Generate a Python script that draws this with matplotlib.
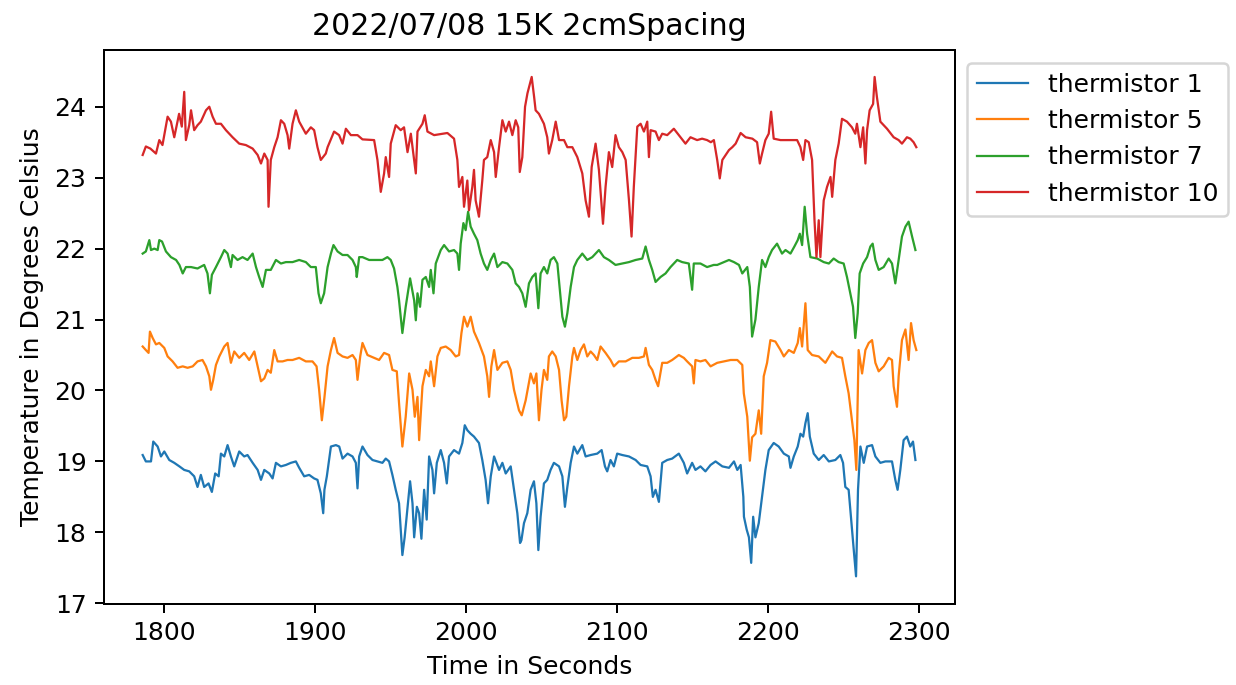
import matplotlib
matplotlib.use("Agg")
import matplotlib.pyplot as plt

title = "2022/07/08 15K 2cmSpacing"
xlabel = "Time in Seconds"
ylabel = "Temperature in Degrees Celsius"
labels = ["thermistor 1", "thermistor 5", "thermistor 7", "thermistor 10"]

# thermistor 10 (red)
t10 = [1785.9, 1788, 1791, 1794.7, 1796.9, 1799, 1802.4, 1804.6, 1806.8, 1810, 1811.8, 1813.4, 1814.5,
       1816.7, 1817.9, 1820, 1822.2, 1824.4, 1827.8, 1830, 1832.2, 1834.4, 1837.7, 1841, 1845.4, 1849.8,
       1854.2, 1858.7, 1862, 1864.2, 1866.4, 1868.6, 1869.2, 1870.7, 1873, 1875.2, 1877.4, 1879.6, 1881.8,
       1882.9, 1885.1, 1887.3, 1889.5, 1893.9, 1897.2, 1899.4, 1901.6, 1903.8, 1907.1, 1908.3, 1912.6,
       1915.9, 1918.2, 1920.4, 1923.7, 1928.1, 1931.4, 1939.1, 1941.3, 1943.5, 1945.7, 1946.8, 1949,
       1950.1, 1953.4, 1956.7, 1958.9, 1961.2, 1963.4, 1966.7, 1967.8, 1971.1, 1972.6, 1974.4, 1978.8,
       1987.6, 1992, 1994.2, 1995.3, 1997.5, 1998.6, 2000.8, 2001.9, 2004.1, 2005.2, 2006.3, 2008.5,
       2010.7, 2011.8, 2014, 2016.3, 2018.5, 2019.6, 2021.8, 2024, 2026.2, 2028.4, 2030.6, 2032.8, 2034.5,
       2035.5, 2037.2, 2039, 2040.6, 2043.4, 2045, 2046, 2048.2, 2051.5, 2053.7, 2054.8, 2057, 2059.3,
       2061.5, 2064.8, 2067, 2070.3, 2073.6, 2076.9, 2079.1, 2081.3, 2083.1, 2085.7, 2087.9, 2090.6,
       2092.3, 2094.5, 2096.7, 2098.9, 2101.1, 2103.4, 2105.6, 2107.8, 2109.5, 2111, 2113.3, 2115.5,
       2117.7, 2119.9, 2121, 2122.1, 2125.4, 2127.6, 2129.8, 2133.1, 2137.5, 2140.8, 2145.2, 2148.5,
       2152.9, 2156.2, 2159.5, 2162, 2164, 2166.2, 2167.9, 2169.6, 2171.8, 2174, 2176.2, 2178.4, 2181.7,
       2185, 2189.5, 2192.6, 2194.4, 2195.9, 2198.1, 2200.3, 2201.9, 2203.6, 2208.1, 2214.7, 2219.1,
       2221.3, 2223.1, 2224.6, 2226.8, 2229, 2230.6, 2231.9, 2233.4, 2234.5, 2236.7, 2238.9, 2241.2,
       2242.3, 2244.4, 2246.6, 2248.8, 2252.1, 2255.4, 2257.6, 2258.7, 2261, 2262.8, 2264.3, 2265.4,
       2267.1, 2269.4, 2270.4, 2271.9, 2274.2, 2278.6, 2283, 2286.3, 2288.5, 2291.8, 2294, 2296.2, 2298]
v10 = [23.32, 23.44, 23.41, 23.34, 23.53, 23.46, 23.86, 23.79, 23.57, 23.90, 23.72, 24.21, 23.53,
       23.74, 23.95, 23.67, 23.74, 23.79, 23.95, 24.0, 23.86, 23.76, 23.76, 23.67, 23.57, 23.48,
       23.46, 23.41, 23.32, 23.20, 23.34, 23.25, 22.59, 23.25, 23.43, 23.57, 23.81, 23.76, 23.60,
       23.41, 23.76, 23.95, 23.79, 23.62, 23.71, 23.67, 23.43, 23.25, 23.34, 23.43, 23.65,
       23.60, 23.48, 23.69, 23.60, 23.60, 23.54, 23.53, 23.25, 22.80, 23.06, 23.29, 23.01,
       23.48, 23.74, 23.67, 23.71, 23.36, 23.62, 23.06, 23.65, 23.76, 23.88, 23.65, 23.60,
       23.63, 23.55, 23.25, 22.87, 23.01, 22.59, 22.96, 22.54, 22.87, 23.11, 22.68, 22.45,
       22.96, 23.25, 23.29, 23.53, 23.36, 23.01, 23.43, 23.81, 23.65, 23.79, 23.60, 23.81, 23.71,
       23.08, 23.29, 24.0, 24.19, 24.42, 24.14, 23.95, 23.90, 23.76, 23.57, 23.34, 23.53, 23.79,
       23.53, 23.53, 23.43, 23.43, 23.29, 23.06, 22.68, 22.45, 23.15, 23.48, 23.11, 22.35,
       22.87, 23.36, 23.15, 23.60, 23.43, 23.36, 23.25, 22.68, 22.17, 22.87, 23.72, 23.76,
       23.65, 23.79, 23.29, 23.67, 23.65, 23.53, 23.62, 23.60, 23.69, 23.60, 23.48, 23.57,
       23.53, 23.55, 23.53, 23.50, 23.53, 23.25, 22.99, 23.25, 23.32, 23.39, 23.43, 23.48, 23.63,
       23.57, 23.55, 23.50, 23.20, 23.34, 23.53, 23.62, 23.93, 23.55, 23.53, 23.53, 23.53,
       23.43, 23.25, 23.53, 23.50, 23.25, 22.40, 21.88, 22.40, 21.88, 22.68, 22.87, 23.01,
       22.73, 23.25, 23.48, 23.83, 23.79, 23.71, 23.62, 23.76, 23.43, 23.71, 23.20, 23.67,
       23.95, 24.04, 24.42, 24.14, 23.79, 23.69, 23.57, 23.53, 23.48, 23.57, 23.55, 23.50, 23.43]

# thermistor 7 (green)
t7 = [1785.9, 1788, 1790.3, 1791.4, 1793.6, 1795.8, 1796.9, 1798.7, 1801.3, 1804.6, 1808, 1810.2, 1812.4,
      1814.5, 1817.9, 1822.2, 1826.6, 1828.8, 1830.4, 1831.7, 1834.4, 1837.7, 1839.9, 1842.1, 1844.3,
      1845.4, 1848.7, 1852, 1855.3, 1858.7, 1860.9, 1863, 1865.3, 1867.5, 1870.7, 1874.1, 1877.4, 1880.7,
      1885.1, 1889.5, 1893.9, 1897.2, 1900.5, 1902.3, 1903.8, 1906, 1908.3, 1910.5, 1912.2, 1914.9,
      1918.2, 1921.5, 1924.8, 1927, 1927.6, 1929.2, 1931.4, 1935.8, 1940.2, 1944.6, 1947.9, 1950.1,
      1952.3, 1954.5, 1955.6, 1957.8, 1960, 1962.9, 1965.6, 1966.7, 1967.8, 1969.5, 1971.1, 1973.3,
      1975.5, 1976.6, 1978.4, 1979.9, 1983.2, 1985.4, 1988.7, 1992, 1994.2, 1995.3, 1996.4, 1998.2,
      1999.7, 2001.3, 2003, 2005.2, 2007.4, 2009.6, 2011.8, 2014, 2016.3, 2018.5, 2020.7, 2024, 2027.3,
      2030.6, 2032.8, 2035, 2037.2, 2039.4, 2041.6, 2043.8, 2046, 2047.8, 2049.3, 2051.5, 2053.7,
      2055.9, 2058.1, 2060.4, 2062.1, 2063.7, 2065.4, 2067, 2069.2, 2071.4, 2073.6, 2076.9, 2080.2,
      2083.5, 2087.9, 2091.2, 2094.5, 2098.9, 2103.4, 2107.8, 2112.2, 2116.6, 2118.8, 2121, 2123.2,
      2125.4, 2128.7, 2132, 2135.3, 2139.7, 2143, 2147.4, 2149.6, 2150.7, 2155.1, 2159.5, 2163.9,
      2166.2, 2170.7, 2174, 2177.3, 2180.6, 2182.8, 2186.1, 2187.8, 2189.3, 2191.5, 2193.7, 2195.9,
      2198.1, 2200.3, 2202.5, 2205.8, 2209.1, 2211.4, 2214.7, 2217.3, 2219.5, 2220.9, 2222.4, 2224.1,
      2225.7, 2227.9, 2232.4, 2236.7, 2240.1, 2243.3, 2246.6, 2249.9, 2252.1, 2253.9, 2256.1, 2257.6,
      2259.2, 2260.5, 2262.8, 2265.4, 2267.6, 2269.1, 2270.9, 2273.1, 2276.4, 2279.7, 2281.9, 2284.1,
      2286.3, 2288.5, 2290.8, 2292.9, 2295.2, 2297.4]
v7 = [21.93, 21.96, 22.12, 21.98, 22.0, 21.98, 22.12, 22.10, 21.96, 21.88, 21.84, 21.77, 21.65,
      21.74, 21.74, 21.72, 21.77, 21.65, 21.37, 21.63, 21.74, 21.88, 21.98, 21.93, 21.74,
      21.91, 21.84, 21.88, 21.84, 21.93, 21.74, 21.60, 21.46, 21.70, 21.70, 21.84, 21.79, 21.81,
      21.81, 21.84, 21.81, 21.74, 21.74, 21.37, 21.23, 21.37, 21.74, 21.93, 22.05, 21.96,
      21.91, 21.91, 21.84, 21.74, 21.60, 21.88, 21.88, 21.84, 21.84, 21.84, 21.88, 21.84,
      21.72, 21.46, 21.27, 20.81, 21.18, 21.58, 21.27, 20.99, 21.37, 21.18, 21.56, 21.60,
      21.46, 21.70, 21.37, 21.79, 21.98, 22.05, 21.96, 21.98, 21.93, 21.70, 22.07, 22.36,
      22.26, 22.52, 22.31, 22.21, 22.12, 21.93, 21.79, 21.70, 21.84, 21.93, 21.74, 21.81, 21.79,
      21.70, 21.51, 21.46, 21.37, 21.18, 21.51, 21.60, 21.65, 21.16, 21.65, 21.74, 21.65,
      21.84, 21.88, 21.79, 21.41, 21.04, 20.90, 21.09, 21.46, 21.74, 21.84, 21.93, 21.84,
      21.88, 21.98, 21.88, 21.84, 21.77, 21.79, 21.81, 21.84, 21.86, 22.03, 21.84, 21.70,
      21.53, 21.60, 21.65, 21.74, 21.84, 21.81, 21.79, 21.42, 21.79, 21.79, 21.74, 21.77,
      21.77, 21.81, 21.84, 21.81, 21.77, 21.65, 21.74, 21.46, 20.76, 21.0, 21.46, 21.84,
      21.74, 21.88, 21.98, 22.07, 21.93, 21.98, 21.93, 22.03, 22.12, 22.21, 22.05, 22.59,
      22.21, 21.88, 21.86, 21.81, 21.79, 21.86, 21.81, 21.79, 21.60, 21.41, 21.18, 20.74,
      21.09, 21.65, 21.79, 21.88, 22.03, 22.07, 21.84, 21.70, 21.74, 21.86, 21.79, 21.51,
      21.84, 22.17, 22.31, 22.38, 22.17, 21.98]

# thermistor 5 (orange)
t5 = [1785.9, 1788, 1789.8, 1790.7, 1792.5, 1794.7, 1796.9, 1800.2, 1802.4, 1805.7, 1809, 1812.4, 1815.6,
      1819, 1822.2, 1825.5, 1827.8, 1830, 1831.1, 1832.6, 1834.4, 1836.6, 1839.9, 1842.1, 1844.3, 1846.5,
      1849.8, 1853.1, 1856.4, 1859.8, 1862, 1864.2, 1866.4, 1868.6, 1870.7, 1873, 1875.2, 1878.5, 1881.8,
      1885.1, 1889.5, 1893.9, 1898.3, 1901, 1902.7, 1904.5, 1906.2, 1908.3, 1910.5, 1912.6, 1914.9,
      1918.2, 1921.5, 1924.8, 1927, 1928.1, 1929.9, 1931.4, 1934.7, 1939.1, 1942.4, 1945.7, 1949,
      1951.2, 1954.1, 1955.6, 1957.8, 1960, 1962.3, 1964.5, 1966, 1967.8, 1968.9, 1971.1, 1973.3,
      1975.5, 1976.6, 1978.8, 1981, 1983.2, 1986.5, 1989.8, 1993.1, 1995.3, 1996.9, 1998.6, 2000.8,
      2003, 2005.2, 2008.5, 2011.8, 2014, 2015.2, 2016.7, 2018.5, 2020.7, 2024, 2027.3, 2029.5, 2031.7,
      2033.5, 2035, 2036.8, 2039.4, 2042.7, 2044.9, 2046.5, 2048.2, 2049.9, 2051.5, 2053.7, 2054.8,
      2057, 2059.3, 2061.5, 2063.2, 2064.8, 2066.3, 2068.1, 2070.3, 2071.4, 2073.6, 2075.8, 2078,
      2080.2, 2082.4, 2084.6, 2086.8, 2089, 2092.3, 2095.6, 2097.8, 2101.1, 2105.6, 2110, 2114.4,
      2117.7, 2118.8, 2121, 2123.2, 2125.4, 2127.1, 2129.8, 2133.1, 2136.4, 2140.8, 2144.1, 2146.3,
      2149.6, 2150.7, 2151.8, 2155.1, 2158.4, 2161.8, 2166.2, 2170.7, 2175.1, 2179.5, 2182.8, 2183.8,
      2186.1, 2187.8, 2189.3, 2191.5, 2193.7, 2195.3, 2197, 2199.2, 2201.4, 2204.7, 2208.1, 2210.3,
      2213.6, 2216.9, 2219.5, 2220.9, 2222.4, 2224.6, 2226.1, 2229, 2233.4, 2237.8, 2242.3, 2245.5,
      2248.8, 2251, 2253.2, 2255.4, 2257, 2258.3, 2259.8, 2262.1, 2264.3, 2266.5, 2268.7, 2270.9,
      2273.1, 2276.4, 2279.7, 2281.9, 2283, 2285.2, 2286.3, 2288.5, 2290.8, 2292.9, 2294.5, 2296.2, 2298]
v5 = [20.62, 20.57, 20.53, 20.83, 20.74, 20.65, 20.67, 20.60, 20.48, 20.41, 20.32, 20.34, 20.32,
      20.34, 20.41, 20.43, 20.34, 20.20, 20.01, 20.15, 20.36, 20.48, 20.62, 20.67, 20.39, 20.55,
      20.46, 20.53, 20.43, 20.55, 20.34, 20.13, 20.17, 20.29, 20.25, 20.57, 20.41, 20.41, 20.43,
      20.43, 20.46, 20.41, 20.41, 20.34, 20.01, 19.58, 19.90, 20.34, 20.57, 20.74, 20.53,
      20.48, 20.46, 20.50, 20.43, 20.15, 20.48, 20.67, 20.50, 20.46, 20.43, 20.53, 20.50,
      20.29, 20.27, 19.82, 19.21, 19.63, 20.24, 20.01, 19.63, 19.91, 19.30, 20.06, 20.29,
      20.20, 20.41, 20.06, 20.48, 20.60, 20.62, 20.57, 20.48, 20.50, 20.81, 21.04, 20.90,
      21.04, 20.83, 20.67, 20.48, 20.20, 19.91, 20.34, 20.57, 20.29, 20.39, 20.41, 20.29, 20.01,
      19.85, 19.72, 19.65, 19.86, 20.24, 20.10, 20.24, 19.58, 20.01, 20.29, 20.15, 20.48,
      20.55, 20.48, 20.29, 19.86, 19.58, 19.63, 20.06, 20.48, 20.60, 20.43, 20.57, 20.65,
      20.48, 20.55, 20.50, 20.43, 20.62, 20.53, 20.43, 20.34, 20.41, 20.41, 20.46, 20.46,
      20.48, 20.60, 20.36, 20.29, 20.15, 20.06, 20.39, 20.39, 20.43, 20.50, 20.46, 20.41,
      20.34, 20.10, 20.43, 20.41, 20.43, 20.34, 20.39, 20.41, 20.43, 20.43, 20.36, 19.96,
      19.63, 19.01, 19.34, 19.39, 19.72, 19.39, 20.20, 20.39, 20.71, 20.69, 20.57, 20.48,
      20.57, 20.53, 20.67, 20.88, 20.62, 21.23, 20.57, 20.50, 20.48, 20.39, 20.55, 20.48,
      20.46, 20.20, 19.96, 19.58, 19.30, 18.88, 20.57, 20.24, 20.57, 20.67, 20.71, 20.39,
      20.27, 20.34, 20.46, 20.43, 20.06, 19.77, 20.20, 20.71, 20.86, 20.43, 20.95, 20.71, 20.57]

# thermistor 1 (blue)
t1 = [1785.9, 1788, 1791.4, 1792.9, 1795.8, 1798, 1800.2, 1803.5, 1806.8, 1810.2, 1813.4, 1816.7, 1820,
      1822.2, 1824.4, 1826.6, 1829.5, 1831.7, 1833.9, 1836.2, 1837.7, 1839.9, 1842.1, 1844.3, 1846.5,
      1849.8, 1853.1, 1855.3, 1858.7, 1862, 1864.2, 1866.4, 1869.7, 1871.9, 1874.1, 1877.4, 1880.7, 1884,
      1887.3, 1889.5, 1892.8, 1896.1, 1899.4, 1901.6, 1903.8, 1905.4, 1906.2, 1907.8, 1910.5, 1913.8,
      1916, 1918.2, 1921.5, 1924.8, 1927, 1928.1, 1929.2, 1931.4, 1934.7, 1938, 1941.3, 1944.6, 1946.8,
      1949, 1951.2, 1953.4, 1955.6, 1956.7, 1957.8, 1959.3, 1961.1, 1962.9, 1964.5, 1965.6, 1967.4,
      1968.9, 1970.4, 1972.2, 1973.9, 1975.5, 1977.7, 1978.8, 1980.6, 1983.2, 1985.4, 1987.2, 1988.7,
      1992, 1995.3, 1997.5, 1999.1, 2000.8, 2003, 2005.2, 2008.5, 2010.7, 2012.9, 2014.5, 2016.3, 2018.5,
      2021.8, 2024, 2026.2, 2029.5, 2031.7, 2033.9, 2035.7, 2036.6, 2038.3, 2040.5, 2042.7, 2044.9,
      2046.5, 2047.8, 2049.3, 2051.5, 2053.7, 2055.9, 2058.1, 2061.5, 2063.7, 2065.4, 2067, 2069.2,
      2071.4, 2073.6, 2076.9, 2079.1, 2082.4, 2086.8, 2089.7, 2091.9, 2093.4, 2095.6, 2097.8, 2100,
      2103.4, 2107.8, 2112.2, 2115.5, 2119.9, 2122.1, 2123.6, 2125.4, 2127.6, 2129.8, 2133.1, 2136.4,
      2140.8, 2144.1, 2146.3, 2149.6, 2151.8, 2155.1, 2158.4, 2161.8, 2165.1, 2169.6, 2174, 2177.3,
      2179.5, 2181.7, 2183.5, 2183.9, 2185.7, 2187.2, 2188.7, 2190, 2191.5, 2193.7, 2195.9, 2198.1,
      2200.3, 2203.6, 2206.9, 2210.3, 2213.6, 2214.7, 2216.9, 2219.5, 2221.3, 2223.1, 2224.6, 2226.1,
      2227.5, 2230.1, 2233.4, 2236.7, 2240.1, 2244.4, 2247.7, 2249.5, 2251, 2253.2, 2255.4, 2256.6,
      2258.1, 2259.4, 2261, 2263.2, 2265.4, 2268.7, 2270.9, 2274.2, 2277.5, 2281.9, 2284.1, 2285.6,
      2287.4, 2289.6, 2291.8, 2294, 2295.8, 2297.4]
v1 = [19.09, 19.0, 19.0, 19.28, 19.21, 19.07, 19.14, 19.02, 18.98, 18.93, 18.88, 18.86, 18.79,
      18.64, 18.81, 18.64, 18.69, 18.57, 18.83, 18.79, 19.11, 19.07, 19.23, 19.07, 18.93,
      19.14, 19.07, 19.09, 18.98, 18.88, 18.74, 18.88, 18.83, 18.76, 18.98, 18.93, 18.95, 18.98,
      19.0, 18.91, 18.79, 18.81, 18.76, 18.74, 18.55, 18.27, 18.60, 18.79, 19.21, 19.23,
      19.21, 19.04, 19.11, 19.07, 18.98, 18.62, 19.07, 19.21, 19.09, 19.02, 19.0, 18.98, 19.04,
      19.0, 18.81, 18.60, 18.41, 18.04, 17.68, 17.93, 18.32, 18.72, 18.41, 17.93, 18.36,
      18.27, 17.91, 18.60, 18.18, 19.07, 18.88, 18.55, 18.98, 19.16, 18.98, 18.69, 19.07,
      19.16, 19.11, 19.26, 19.51, 19.44, 19.39, 19.35, 19.26, 19.02, 18.74, 18.41, 18.79, 19.07,
      18.88, 18.98, 18.83, 18.93, 18.60, 18.27, 17.85, 17.89, 18.13, 18.27, 18.60, 18.72,
      18.41, 17.75, 18.22, 18.69, 18.74, 18.88, 18.98, 18.93, 18.79, 18.36, 18.64, 18.98,
      19.21, 19.11, 19.23, 19.07, 19.09, 19.11, 19.16, 18.93, 18.86, 19.02, 18.93, 19.11,
      19.09, 19.07, 19.02, 18.95, 18.93, 18.79, 18.50, 18.60, 18.43, 18.98, 19.02, 19.04,
      19.11, 18.98, 18.83, 18.98, 18.88, 18.93, 18.86, 18.95, 19.0, 18.93, 18.91, 19.0,
      18.88, 18.95, 18.50, 18.22, 18.04, 17.93, 17.57, 18.22, 17.93, 18.13, 18.50, 18.88,
      19.16, 19.26, 19.21, 19.11, 19.07, 18.91, 19.07, 19.21, 19.39, 19.35, 19.54, 19.68,
      19.35, 19.11, 19.02, 19.09, 19.0, 19.02, 19.09, 18.98, 18.64, 18.60, 18.04, 17.75,
      17.38, 18.60, 19.21, 18.98, 19.21, 19.23, 19.07, 18.98, 19.0, 19.0, 18.74, 18.60,
      18.88, 19.30, 19.35, 19.21, 19.28, 19.02]

DPI = 180
fig = plt.figure(figsize=(1236 / DPI, 685 / DPI), dpi=DPI)
ax = fig.add_axes([104 / 1236, 1 - 604 / 685, (955 - 104) / 1236, (604 - 50) / 685])

series = [(t1, v1), (t5, v5), (t7, v7), (t10, v10)]
colors = ["tab:blue", "tab:orange", "tab:green", "tab:red"]
for (t, v), lab, c in zip(series, labels, colors):
    ax.plot(t, v, color=c, linewidth=0.9, label=lab)

ax.set_ylim(16.99, 24.8)
ax.set_yticks([17, 18, 19, 20, 21, 22, 23, 24])
ax.set_xticks([1800, 1900, 2000, 2100, 2200, 2300])
ax.set_title(title)
ax.set_xlabel(xlabel)
ax.set_ylabel(ylabel)
ax.legend(loc="upper left", bbox_to_anchor=(1, 1))

fig.savefig("out.png", dpi=DPI)
